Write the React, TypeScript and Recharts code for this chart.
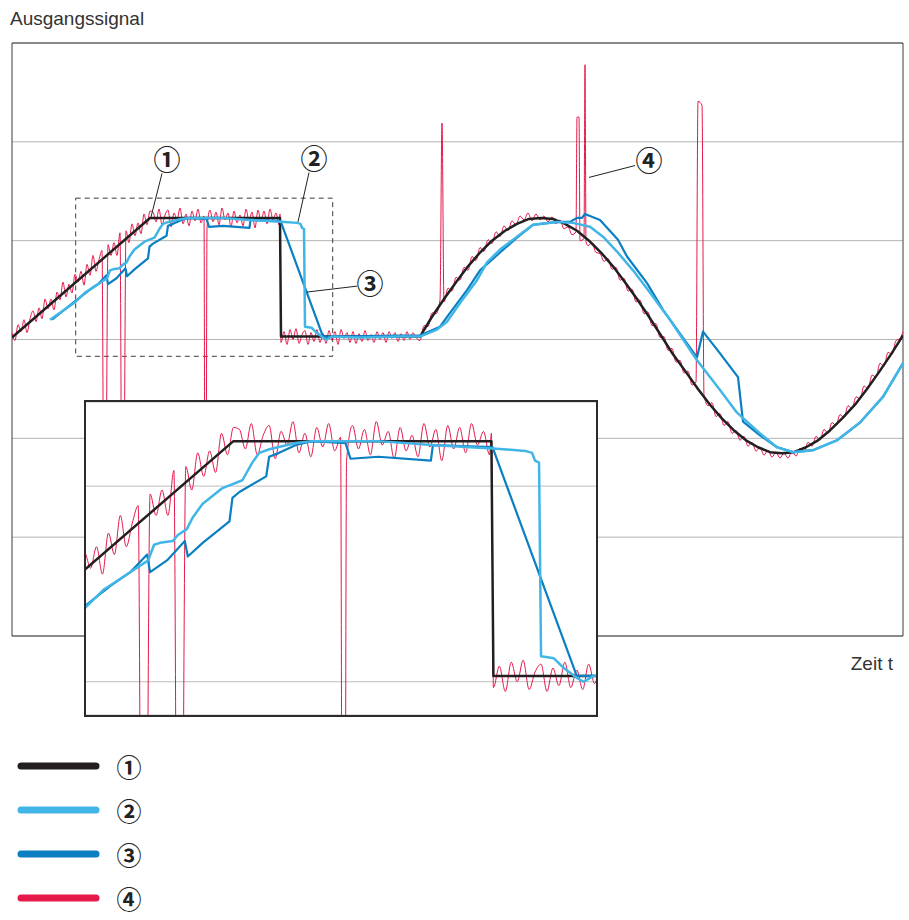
import React from 'react';
import {
  LineChart, Line, XAxis, YAxis, CartesianGrid, ReferenceArea, ReferenceLine, ReferenceDot
} from 'recharts';

// time runs 0..891 (arbitrary units), output level 0..6
const timeRange: [number, number] = [0, 891];
const levelRange: [number, number] = [0, 6];
const gridLevels = [1, 2, 3, 4, 5];

// window that is magnified in the inset
const zoomTime: [number, number] = [63.7, 320.7];
const zoomLevel: [number, number] = [2.83, 4.43];
const zoomGridLevels = [3, 4];

// ① ideal output: ramp, hold, step down, then a sine
const idealSignal: number[][] = [
  [0, 3.02], [138, 4.23], [268, 4.23], [269, 3.03], [408, 3.03],
  [420, 3.23], [432, 3.41], [444, 3.58], [456, 3.74], [468, 3.88], [480, 4.0], [493, 4.1],
  [505, 4.17], [517, 4.22], [529, 4.23], [541, 4.22], [553, 4.17], [565, 4.1], [577, 4.0],
  [589, 3.88], [601, 3.74], [613, 3.58], [625, 3.41], [637, 3.23], [649, 3.04], [661, 2.85],
  [674, 2.67], [686, 2.5], [698, 2.34], [710, 2.2], [722, 2.08], [734, 1.98], [746, 1.91],
  [758, 1.86], [770, 1.85], [782, 1.86], [794, 1.91], [806, 1.98], [818, 2.08], [830, 2.2],
  [843, 2.34], [855, 2.5], [867, 2.67], [879, 2.85], [891, 3.04],
];

// ② fast filter
const fastFilter: number[][] = [
  [38, 3.2], [48, 3.27], [63.5, 3.38], [72.5, 3.47], [86, 3.56], [93.5, 3.61], [95, 3.62],
  [98, 3.7], [101, 3.71], [107.5, 3.72], [110, 3.75], [114.5, 3.78], [117.5, 3.84], [122.5, 3.91],
  [132.5, 3.99], [142.5, 4.03], [147.5, 4.12], [151, 4.17], [156.5, 4.19], [169.5, 4.22],
  [177.5, 4.23], [211, 4.23], [238, 4.21], [272.5, 4.19], [285, 4.18], [288.5, 4.17], [290, 4.13],
  [292, 4.12], [293, 3.13], [299.5, 3.12], [304.5, 3.07], [311, 3.02], [314.5, 3.0], [319.5, 3.03],
  [348, 3.02], [388, 3.03], [408, 3.03], [425, 3.1], [435, 3.18], [448, 3.37], [465, 3.6],
  [475, 3.78], [488, 3.91], [505, 4.04], [521, 4.16], [545, 4.19], [561, 4.18], [578, 4.14],
  [591, 4.04], [605, 3.89], [621, 3.7], [636, 3.5], [658, 3.2], [685, 2.79], [708, 2.49],
  [725, 2.26], [748, 2.05], [765, 1.91], [781, 1.86], [801, 1.88], [825, 1.98], [848, 2.16],
  [871, 2.42], [891, 2.76],
];

// ③ slow filter
const slowFilter: number[][] = [
  [40, 3.2], [63.5, 3.39], [76, 3.49], [86, 3.56], [94.5, 3.65], [96, 3.56], [104.5, 3.62],
  [113.5, 3.72], [115, 3.64], [122.5, 3.71], [136, 3.82], [137.5, 3.94], [141, 3.97], [154.5, 4.05],
  [156, 4.15], [161, 4.17], [169.5, 4.21], [177.5, 4.23], [194.5, 4.22], [197, 4.14], [211, 4.15],
  [237.5, 4.13], [238.5, 4.21], [268.5, 4.2], [311, 3.03], [319.5, 3.03], [388, 3.04], [408, 3.04],
  [428, 3.13], [438, 3.27], [455, 3.5], [468, 3.7], [488, 3.88], [505, 4.03], [521, 4.16],
  [545, 4.19], [558, 4.19], [565, 4.23], [570, 4.23], [573, 4.27], [588, 4.21], [606, 4.01],
  [615, 3.84], [635, 3.57], [651, 3.3], [685, 2.82], [691, 3.08], [708, 2.86], [726, 2.62],
  [731, 2.17], [748, 2.03], [765, 1.91], [781, 1.86], [801, 1.88], [825, 1.98], [848, 2.16],
  [871, 2.42], [891, 2.76],
];

// ④ raw sensor signal with noise and spikes
const rawRamp: number[][] = [
  [0, 3.07], [3, 2.99], [6, 3.15], [9, 3.08], [12, 3.2], [15, 3.07], [18, 3.21], [21, 3.29],
  [24, 3.18], [27, 3.32], [30, 3.21], [33, 3.41], [36, 3.31], [39, 3.41], [42, 3.3], [45, 3.48],
  [48, 3.4], [51, 3.58], [54, 3.43], [57, 3.56], [60, 3.47], [63, 3.66], [66, 3.58], [69, 3.69],
  [72, 3.55], [75, 3.76], [78, 3.65], [81, 3.85], [84, 3.69], [87, 3.81], [90, 3.9], [92, 1.0],
  [93.5, 1.0], [96, 3.96], [99, 3.85], [102, 3.98], [105, 3.85], [108, 4.08], [110, 1.0],
  [111.5, 1.0], [114, 4.1], [117, 3.98], [120, 4.17], [123, 4.05], [126, 4.18], [129, 4.07],
  [132, 4.27], [135, 4.16], [138, 4.3],
];
const rawHigh: number[][] = [
  [141, 4.29], [144, 4.19], [147, 4.32], [150, 4.16], [153, 4.26], [156, 4.31], [159, 4.14],
  [162, 4.28], [165, 4.21], [168, 4.33], [171, 4.17], [174, 4.27], [177, 4.15], [180, 4.3],
  [183, 4.2], [186, 4.32], [189, 4.18], [192, 4.25], [193, 1.0], [194, 1.0], [195, 4.13],
  [198, 4.31], [201, 4.19], [204, 4.29], [207, 4.16], [210, 4.33], [213, 4.21], [216, 4.28],
  [219, 4.14], [222, 4.3], [225, 4.18], [228, 4.26], [231, 4.15], [234, 4.32], [237, 4.2],
  [240, 4.29], [243, 4.13], [246, 4.31], [249, 4.19], [252, 4.3], [255, 4.17], [258, 4.32],
  [261, 4.21], [264, 4.28], [267, 4.16], [268, 4.27],
];
const rawLow: number[][] = [
  [269, 2.97], [272, 3.08], [275, 2.95], [278, 3.1], [281, 3.0], [284, 3.11], [287, 2.96],
  [290, 3.05], [293, 3.09], [296, 2.95], [299, 3.07], [302, 2.98], [305, 3.1], [308, 2.97],
  [311, 3.06], [314, 2.96], [317, 3.09], [320, 2.99], [323, 3.08], [326, 2.95], [329, 3.1],
  [332, 3.01], [335, 3.07], [338, 2.97], [341, 3.08], [344, 2.96], [347, 3.06], [350, 2.98],
  [353, 3.09], [356, 2.99], [359, 3.05], [362, 2.97], [365, 3.08], [368, 3.0], [371, 3.07],
  [374, 2.97], [377, 3.08], [380, 3.01], [383, 3.07], [386, 2.98], [389, 3.06], [392, 2.99],
  [395, 3.08], [398, 3.0], [401, 3.07], [404, 3.02],
];
const rawWave: number[][] = [
  [408, 2.99], [412, 3.14], [416, 3.13], [420, 3.27], [424, 3.26], [428, 3.4], [430, 5.19],
  [432, 3.38], [436, 3.52], [440, 3.49], [444, 3.63], [448, 3.6], [452, 3.73], [456, 3.7],
  [460, 3.84], [464, 3.8], [468, 3.93], [472, 3.89], [476, 4.01], [480, 3.97], [484, 4.09],
  [488, 4.04], [492, 4.15], [496, 4.1], [500, 4.2], [504, 4.16], [508, 4.25], [512, 4.21],
  [516, 4.28], [520, 4.2], [524, 4.27], [528, 4.21], [532, 4.25], [536, 4.19], [540, 4.24],
  [544, 4.17], [548, 4.21], [552, 4.12], [556, 4.14], [560, 4.06], [564, 4.09], [565, 5.25],
  [567, 5.25], [568, 4.0], [572, 4.02], [573, 5.78], [574, 3.99], [576, 3.95], [580, 3.98],
  [584, 3.88], [588, 3.87], [592, 3.79], [596, 3.82], [600, 3.71], [604, 3.73], [608, 3.6],
  [612, 3.62], [616, 3.49], [620, 3.51], [624, 3.38], [628, 3.4], [632, 3.26], [636, 3.28],
  [640, 3.14], [644, 3.16], [648, 3.02], [652, 3.03], [656, 2.89], [660, 2.91], [664, 2.77],
  [668, 2.79], [672, 2.66], [676, 2.68], [680, 2.54], [684, 2.57], [686, 5.41], [690, 5.37],
  [692, 2.44], [696, 2.33], [700, 2.36], [704, 2.22], [708, 2.25], [712, 2.13], [716, 2.17],
  [720, 2.05], [724, 2.08], [728, 1.98], [732, 2.02], [736, 1.92], [740, 1.96], [744, 1.87],
  [748, 1.91], [752, 1.83], [756, 1.88], [760, 1.81], [764, 1.86], [768, 1.8], [772, 1.85],
  [776, 1.8], [780, 1.87], [784, 1.82], [788, 1.9], [792, 1.86], [796, 1.96], [800, 1.92],
  [804, 2.02], [808, 1.98], [812, 2.09], [816, 2.05], [820, 2.16], [824, 2.13], [828, 2.24],
  [832, 2.21], [836, 2.33], [840, 2.3], [844, 2.42], [848, 2.4], [852, 2.53], [856, 2.5],
  [860, 2.64], [864, 2.62], [868, 2.76], [872, 2.73], [876, 2.87], [880, 2.85], [884, 2.99],
  [888, 3.01], [891, 3.08],
];

const toRows = (pts: number[][]) => pts.map(([t, v]) => ({ t, v }));

const series = [
  { key: 'ideal', name: '①', color: '#231f20', width: 2.5, curve: 'linear', data: toRows(idealSignal) },
  { key: 'fast', name: '②', color: '#41b6e6', width: 2.5, curve: 'linear', data: toRows(fastFilter) },
  { key: 'slow', name: '③', color: '#0a7fc2', width: 2.2, curve: 'linear', data: toRows(slowFilter) },
  {
    key: 'raw', name: '④', color: '#e5194a', width: 1, curve: 'monotone',
    data: toRows([...rawRamp, ...rawHigh, ...rawLow, ...rawWave]),
  },
];
const drawOrder = ['raw', 'ideal', 'slow', 'fast'];

// callout numbers: label position and leader line (in data units)
const callouts = [
  { label: '①', at: [155, 4.81], from: [150, 4.68], to: [139, 4.24] },
  { label: '②', at: [302, 4.82], from: [297, 4.69], to: [286, 4.19] },
  { label: '③', at: [358, 3.56], from: [345, 3.54], to: [295, 3.48] },
  { label: '④', at: [637, 4.8], from: [623, 4.76], to: [577, 4.64] },
];

const circledFont = "'Noto Sans CJK JP', 'DejaVu Sans', sans-serif";
const textFont = "'Liberation Sans', Arial, sans-serif";

const renderLines = () =>
  drawOrder.map(k => {
    const s = series.find(x => x.key === k)!;
    return (
      <Line
        key={s.key}
        data={s.data}
        dataKey="v"
        name={s.name}
        type={s.curve as any}
        stroke={s.color}
        strokeWidth={s.width}
        strokeLinejoin="round"
        dot={false}
        activeDot={false}
        isAnimationActive={false}
      />
    );
  });

const App = () => (
  <div style={{ position: 'absolute', left: 0, top: 0, width: 909, height: 920, background: '#fff', overflow: 'hidden' }}>
    <LineChart width={909} height={660} margin={{ top: 43, right: 6, bottom: 24, left: 12 }}>
      <XAxis type="number" dataKey="t" domain={timeRange} hide allowDataOverflow />
      <YAxis type="number" dataKey="v" domain={levelRange} ticks={gridLevels} hide allowDataOverflow />
      <CartesianGrid vertical={false} stroke="#b3b3b3" />
      <ReferenceArea
        x1={zoomTime[0]} x2={zoomTime[1]} y1={zoomLevel[0]} y2={zoomLevel[1]}
        fill="none" stroke="#3c3c3c" strokeDasharray="5 4"
      />
      {renderLines()}
      <ReferenceArea x1={timeRange[0]} x2={timeRange[1]} y1={levelRange[0]} y2={levelRange[1]} fill="none" stroke="#3a3a3a" />
      {callouts.map(c => (
        <ReferenceLine
          key={`lead-${c.label}`}
          segment={[{ x: c.from[0], y: c.from[1] }, { x: c.to[0], y: c.to[1] }]}
          stroke="#222"
          strokeWidth={1}
          ifOverflow="visible"
        />
      ))}
      {callouts.map(c => (
        <ReferenceDot
          key={`num-${c.label}`}
          x={c.at[0]}
          y={c.at[1]}
          r={1}
          fill="none"
          stroke="none"
          label={{ value: c.label, position: 'center', fontSize: 27, fontWeight: 700, fill: '#222', fontFamily: circledFont }}
        />
      ))}
    </LineChart>

    <svg width={909} height={920} style={{ position: 'absolute', left: 0, top: 0, pointerEvents: 'none' }}>
      <text x={10} y={25} fontSize={19} fill="#333" fontFamily={textFont}>Ausgangssignal</text>
      <text x={893} y={670} fontSize={19} fill="#333" fontFamily={textFont} textAnchor="end">Zeit t</text>
      {series.map((s, i) => {
        const y = 766 + i * 44;
        return (
          <g key={`legend-${s.key}`}>
            <line x1={21} x2={96} y1={y} y2={y} stroke={s.color} strokeWidth={7} strokeLinecap="round" />
            <text x={129} y={y} fontSize={25} fontWeight={700} fill="#222" fontFamily={circledFont} textAnchor="middle" dominantBaseline="central">
              {s.name}
            </text>
          </g>
        );
      })}
    </svg>

    <div
      style={{
        position: 'absolute', left: 84, top: 400, width: 514, height: 317,
        boxSizing: 'border-box', border: '2px solid #2b2b2b', background: '#fff',
      }}
    >
      <LineChart width={510} height={313} margin={{ top: 0, right: 0, bottom: 0, left: 0 }}>
        <XAxis type="number" dataKey="t" domain={zoomTime} hide allowDataOverflow />
        <YAxis type="number" dataKey="v" domain={zoomLevel} ticks={zoomGridLevels} hide allowDataOverflow />
        <CartesianGrid vertical={false} stroke="#bdbdbd" />
        {renderLines()}
      </LineChart>
    </div>
  </div>
);

export default App;
